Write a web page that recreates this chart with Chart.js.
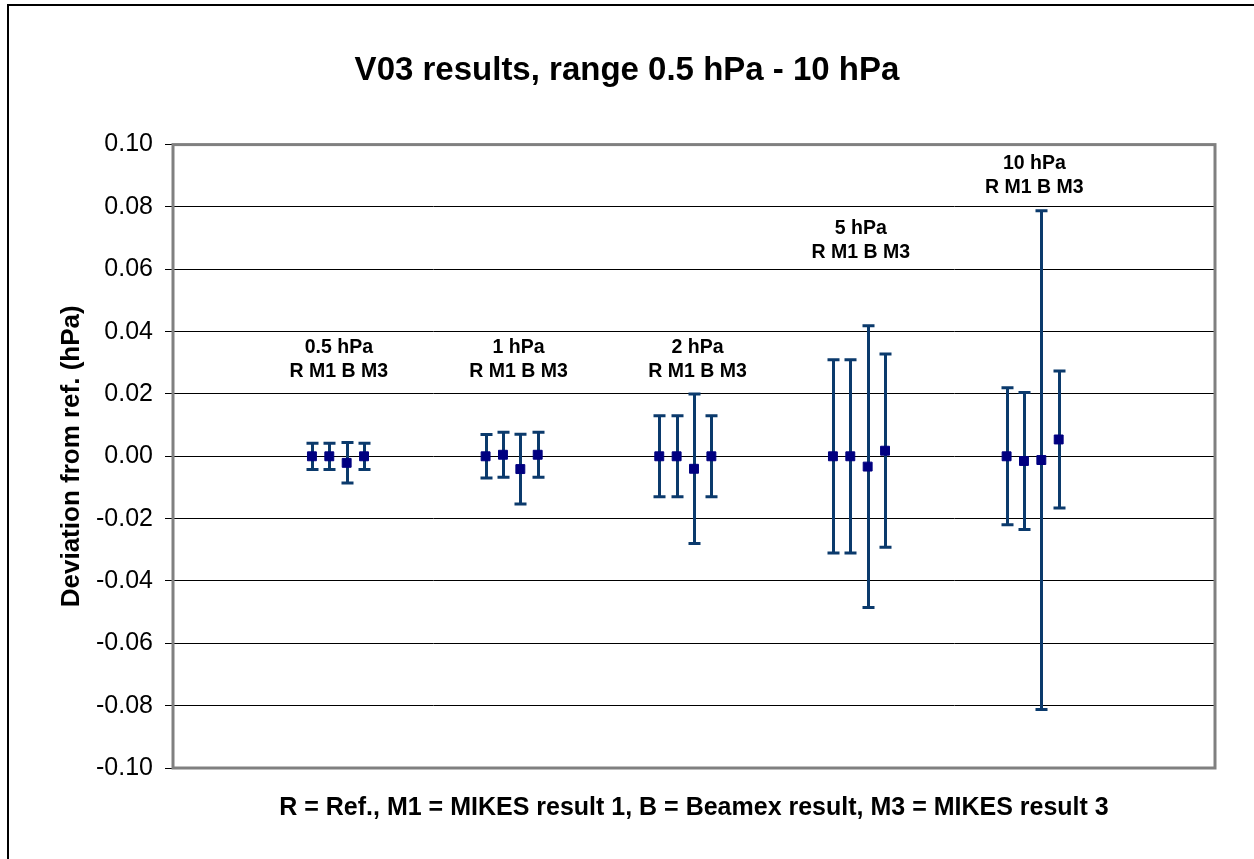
<!DOCTYPE html>
<html>
<head>
<meta charset="utf-8">
<title>V03 results</title>
<script src="https://cdn.jsdelivr.net/npm/chart.js@4/dist/chart.umd.min.js"></script>
<style>
  html, body { margin: 0; padding: 0; background: #fff; overflow: hidden; }
  canvas { display: block; }
</style>
</head>
<body>
<canvas id="v03Chart" width="1254" height="859"></canvas>
<script>
// pressure groups and the x slot of each result inside a group
const pressures = ['0.5 hPa', '1 hPa', '2 hPa', '5 hPa', '10 hPa'];
const groupCodes = 'R M1 B M3';
const xRef = [8, 18, 28, 38, 48];
const xM1 = [9, 19, 29, 39, 49];
const xBeamex = [10, 20, 30, 40, 50];
const xM3 = [11, 21, 31, 41, 51];

// deviation from reference (hPa) and expanded uncertainty (hPa)
const devRef = [0, 0, 0, 0, 0];
const uncRef = [0.0042, 0.0070, 0.0130, 0.0310, 0.0220];
const devM1 = [0, 0.0005, 0, 0, -0.0015];
const uncM1 = [0.0042, 0.0072, 0.0130, 0.0310, 0.0220];
const devBeamex = [-0.0021, -0.0041, -0.0040, -0.0033, -0.0012];
const uncBeamex = [0.0065, 0.0112, 0.0240, 0.0452, 0.0800];
const devM3 = [0, 0.0005, 0, 0.0018, 0.0054];
const uncM3 = [0.0042, 0.0072, 0.0130, 0.0310, 0.0220];

// where the group captions sit (x slot, deviation value)
const captionX = [9.55, 19.9, 30.2, 39.6, 49.6];
const captionY = [0.0348, 0.0348, 0.0348, 0.0730, 0.0940];

const yTicks = [-0.10, -0.08, -0.06, -0.04, -0.02, 0.00, 0.02, 0.04, 0.06, 0.08, 0.10];

const markerColor = '#000080';
const barColor = '#0b3a6c';
const fontFamily = '"Liberation Sans", Arial, sans-serif';

function toPoints(xs, ys, errs) {
    return xs.map((x, i) => ({ x: x, y: ys[i], err: errs[i] }));
}

function makeSeries(label, xs, ys, errs) {
    return {
        label: label,
        data: toPoints(xs, ys, errs),
        showLine: false,
        pointStyle: 'rect',
        pointRadius: 6.3,
        pointHoverRadius: 6.3,
        backgroundColor: markerColor,
        borderColor: markerColor,
        borderWidth: 1
    };
}

// outer frame of the chart object (only top and left edges are in view)
const framePlugin = {
    id: 'frame',
    beforeDraw(chart) {
        const c = chart.ctx;
        c.save();
        c.fillStyle = '#fff';
        c.fillRect(0, 0, chart.width, chart.height);
        c.strokeStyle = '#000';
        c.lineWidth = 2;
        c.strokeRect(8, 5, chart.width + 50, chart.height + 50);
        c.restore();
    }
};

// error bars with caps, plus the grey plot border
const errorBarPlugin = {
    id: 'errorBars',
    beforeDatasetsDraw(chart) {
        const c = chart.ctx;
        const xs = chart.scales.x;
        const ys = chart.scales.y;
        const area = chart.chartArea;

        c.save();
        c.strokeStyle = '#808080';
        c.lineWidth = 3;
        c.strokeRect(area.left, area.top, area.right - area.left, area.bottom - area.top);

        c.strokeStyle = barColor;
        c.lineWidth = 3;
        chart.data.datasets.forEach(ds => {
            ds.data.forEach(p => {
                const px = Math.round(xs.getPixelForValue(p.x)) + 0.5;
                const top = ys.getPixelForValue(p.y + p.err);
                const bottom = ys.getPixelForValue(p.y - p.err);
                c.beginPath();
                c.moveTo(px, top);
                c.lineTo(px, bottom);
                c.moveTo(px - 6, top);
                c.lineTo(px + 6, top);
                c.moveTo(px - 6, bottom);
                c.lineTo(px + 6, bottom);
                c.stroke();
            });
        });
        c.restore();
    },
    afterDatasetsDraw(chart) {
        // group captions, placed in data units
        const c = chart.ctx;
        const xs = chart.scales.x;
        const ys = chart.scales.y;
        c.save();
        c.fillStyle = '#000';
        c.font = 'bold 19.5px ' + fontFamily;
        c.textAlign = 'center';
        c.textBaseline = 'middle';
        pressures.forEach((p, i) => {
            const px = xs.getPixelForValue(captionX[i]);
            const py = ys.getPixelForValue(captionY[i]);
            c.fillText(p, px, py);
            c.fillText(groupCodes, px, py + 24);
        });
        c.restore();
    }
};

const ctx = document.getElementById('v03Chart').getContext('2d');
const v03Chart = new Chart(ctx, {
    type: 'scatter',
    data: {
        datasets: [
            makeSeries('R', xRef, devRef, uncRef),
            makeSeries('M1', xM1, devM1, uncM1),
            makeSeries('B', xBeamex, devBeamex, uncBeamex),
            makeSeries('M3', xM3, devM3, uncM3)
        ]
    },
    options: {
        responsive: false,
        animation: false,
        devicePixelRatio: 1,
        layout: {
            padding: 0
        },
        scales: {
            x: {
                type: 'linear',
                min: 0,
                max: 60,
                ticks: { display: false },
                grid: { display: false },
                border: { display: false },
                title: {
                    display: true,
                    text: 'R = Ref., M1 = MIKES result 1, B = Beamex result, M3 = MIKES result 3',
                    color: '#000',
                    font: { family: fontFamily, size: 25, weight: 'bold' },
                    padding: { top: 0, bottom: 36 }
                },
                afterFit(scale) { scale.height = 91; }
            },
            y: {
                min: -0.10,
                max: 0.10,
                afterBuildTicks(scale) {
                    scale.ticks = yTicks.map(v => ({ value: v }));
                },
                ticks: {
                    color: '#000',
                    padding: 12,
                    font: { family: fontFamily, size: 25 },
                    callback: v => (Math.abs(v) < 1e-9 ? 0 : v).toFixed(2)
                },
                grid: {
                    color: '#000',
                    lineWidth: 1,
                    tickLength: 8
                },
                border: { display: false },
                title: {
                    display: true,
                    text: 'Deviation from ref. (hPa)',
                    color: '#000',
                    font: { family: fontFamily, size: 26, weight: 'bold' },
                    padding: { top: 56, bottom: 0 }
                },
                afterFit(scale) { scale.width = 173; }
            },
            // empty right-hand strip so the plot ends where the original does
            yRight: {
                position: 'right',
                min: -0.10,
                max: 0.10,
                ticks: { display: false },
                grid: { display: false, drawOnChartArea: false },
                border: { display: false },
                afterFit(scale) { scale.width = 39; }
            }
        },
        plugins: {
            legend: { display: false },
            tooltip: { enabled: false },
            title: {
                display: true,
                text: 'V03 results, range 0.5 hPa - 10 hPa',
                color: '#000',
                font: { family: fontFamily, size: 33, weight: 'bold' },
                padding: { top: 51, bottom: 54 }
            }
        }
    },
    plugins: [framePlugin, errorBarPlugin]
});
</script>
</body>
</html>
